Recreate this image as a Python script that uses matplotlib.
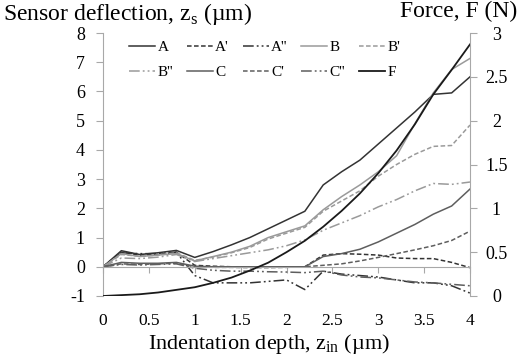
import matplotlib
matplotlib.use('Agg')
import matplotlib.pyplot as plt

plt.rcParams['font.family'] = ['Liberation Serif', 'DejaVu Serif']
plt.rcParams['mathtext.fontset'] = 'custom'
plt.rcParams['mathtext.rm'] = 'Liberation Serif'
plt.rcParams['axes.unicode_minus'] = False

# indentacion (um)
z_in = [0.0, 0.2, 0.4, 0.6, 0.8, 1.0, 1.2, 1.4, 1.6, 1.8, 2.0,
        2.2, 2.4, 2.6, 2.8, 3.0, 3.2, 3.4, 3.6, 3.8, 4.0]

# deflexion del sensor (um)
A = [0, 0.55, 0.42, 0.48, 0.56, 0.32, 0.52, 0.75, 1.00, 1.30, 1.60,
     1.90, 2.80, 3.25, 3.65, 4.20, 4.75, 5.30, 5.90, 5.95, 6.50]
A1 = [0, 0.50, 0.40, 0.42, 0.50, 0.05, 0.02, 0.00, 0.00, 0.00, 0.00,
      0.00, 0.40, 0.45, 0.43, 0.40, 0.30, 0.28, 0.28, 0.15, -0.03]
A2 = [0, 0.48, 0.45, 0.45, 0.50, -0.30, -0.55, -0.55, -0.55, -0.50, -0.45,
      -0.78, -0.15, -0.25, -0.30, -0.35, -0.45, -0.55, -0.55, -0.65, -0.90]
B = [0, 0.45, 0.35, 0.40, 0.45, 0.20, 0.35, 0.50, 0.70, 1.00, 1.20,
     1.40, 1.95, 2.40, 2.80, 3.25, 3.80, 4.90, 5.95, 6.75, 7.13]
B1 = [0, 0.42, 0.36, 0.40, 0.48, 0.22, 0.33, 0.48, 0.66, 0.95, 1.15,
      1.35, 1.90, 2.25, 2.60, 3.10, 3.50, 3.85, 4.12, 4.15, 4.85]
B2 = [0, 0.30, 0.28, 0.33, 0.42, 0.18, 0.28, 0.38, 0.48, 0.58, 0.72,
      0.92, 1.25, 1.50, 1.75, 2.05, 2.30, 2.60, 2.85, 2.82, 2.90]
C = [0, 0.15, 0.12, 0.12, 0.15, 0.02, 0.00, 0.00, 0.00, 0.00, 0.00,
     0.00, 0.35, 0.45, 0.60, 0.85, 1.15, 1.45, 1.80, 2.08, 2.66]
C1 = [0, 0.10, 0.08, 0.10, 0.12, 0.00, -0.02, -0.02, -0.03, -0.03, -0.02,
      0.00, 0.05, 0.10, 0.20, 0.32, 0.45, 0.58, 0.72, 0.90, 1.22]
C2 = [0, 0.08, 0.06, 0.08, 0.10, -0.05, -0.12, -0.15, -0.15, -0.17, -0.18,
      -0.20, -0.15, -0.28, -0.35, -0.38, -0.45, -0.52, -0.55, -0.60, -0.65]

# fuerza (N)
F = [0.00, 0.01, 0.02, 0.04, 0.07, 0.10, 0.15, 0.21, 0.29, 0.38, 0.50,
     0.63, 0.79, 0.97, 1.17, 1.40, 1.66, 1.96, 2.30, 2.58, 2.87]

etiquetas = ["A", "A'", "A''", "B", "B'", "B''", "C", "C'", "C''"]
x_ticks = [0, 0.5, 1, 1.5, 2, 2.5, 3, 3.5, 4]
x_ticklabels = ['0', '0.5', '1', '1.5', '2', '2.5', '3', '3.5', '4']
y_ticks = list(range(-1, 9))
f_ticks = [0, 0.5, 1, 1.5, 2, 2.5, 3]
f_ticklabels = ['0', '0.5', '1', '1.5', '2', '2.5', '3']

OSCURO = '#333333'
GRIS = '#9a9a9a'
MEDIO = '#5e5e5e'
EJE = '#a8a8a8'
DASH = (0, (3, 1.6))
DASHDOT = (0, (7, 2, 1.2, 2, 1.2, 2))

estilos = [
    (OSCURO, '-'), (OSCURO, DASH), (OSCURO, DASHDOT),
    (GRIS, '-'), (GRIS, DASH), (GRIS, DASHDOT),
    (MEDIO, '-'), (MEDIO, DASH), (MEDIO, DASHDOT),
]

fig = plt.figure(figsize=(5.26, 3.56), dpi=100)
ax = fig.add_axes([103 / 526, 60 / 356, 367 / 526, 263 / 356])
ax2 = ax.twinx()

lineas = []
for serie, et, (color, ls) in zip([A, A1, A2, B, B1, B2, C, C1, C2], etiquetas, estilos):
    ln, = ax.plot(z_in, serie, color=color, linestyle=ls, linewidth=1.1, label=et)
    lineas.append(ln)
ln_f, = ax2.plot(z_in, F, color='#1a1a1a', linewidth=1.3, label='F')
lineas.append(ln_f)

ax.set_xlim(0, 4)
ax.set_ylim(-1, 8)
ax2.set_ylim(0, 3)

ax.set_xticks(x_ticks)
ax.set_xticklabels(x_ticklabels)
ax.set_yticks(y_ticks)
ax2.set_yticks(f_ticks)
ax2.set_yticklabels(f_ticklabels)

for a in (ax, ax2):
    a.spines['top'].set_visible(False)
    a.spines['bottom'].set_visible(False)
ax.spines['right'].set_visible(False)
ax2.spines['left'].set_visible(False)
ax.spines['left'].set_color(EJE)
ax2.spines['right'].set_color(EJE)
ax.spines['bottom'].set_visible(True)
ax.spines['bottom'].set_position(('data', 0))
ax.spines['bottom'].set_color(EJE)

ax.tick_params(axis='x', colors=EJE, length=4, width=0.8, pad=29.5, labelsize=12.5,
               labelcolor='black')
ax.tick_params(axis='y', colors=EJE, length=5, width=0.8, pad=8, labelsize=13,
               labelcolor='black')
ax2.tick_params(axis='y', colors=EJE, length=5, width=0.8, pad=14, labelsize=13,
                labelcolor='black')
plt.setp(ax2.get_yticklabels(), ha='center')

# leyenda por filas: matplotlib llena por columnas, asi que se reordena
orden = [0, 5, 1, 6, 2, 7, 3, 8, 4, 9]
ax.legend(handles=[lineas[i] for i in orden], ncol=5, frameon=False, fontsize=11,
          loc='upper left', bbox_to_anchor=(0.055, 0.995),
          handlelength=1.7, handletextpad=0.15, columnspacing=0.9,
          labelspacing=0.75, borderaxespad=0.0)

fig.text(3 / 526, 1 - 1 / 356, r'Sensor deflection, z$_{\mathrm{s}}$ (µm)',
         fontsize=17, ha='left', va='top')
fig.text(400 / 526, 1 - 1 / 356, 'Force, F (N)',
         fontsize=17, ha='left', va='top')
fig.text(269 / 526, 7.5 / 356, r'Indentation depth, z$_{\mathrm{in}}$ (µm)',
         fontsize=16, ha='center', va='baseline')

fig.savefig('out.png', dpi=100)
